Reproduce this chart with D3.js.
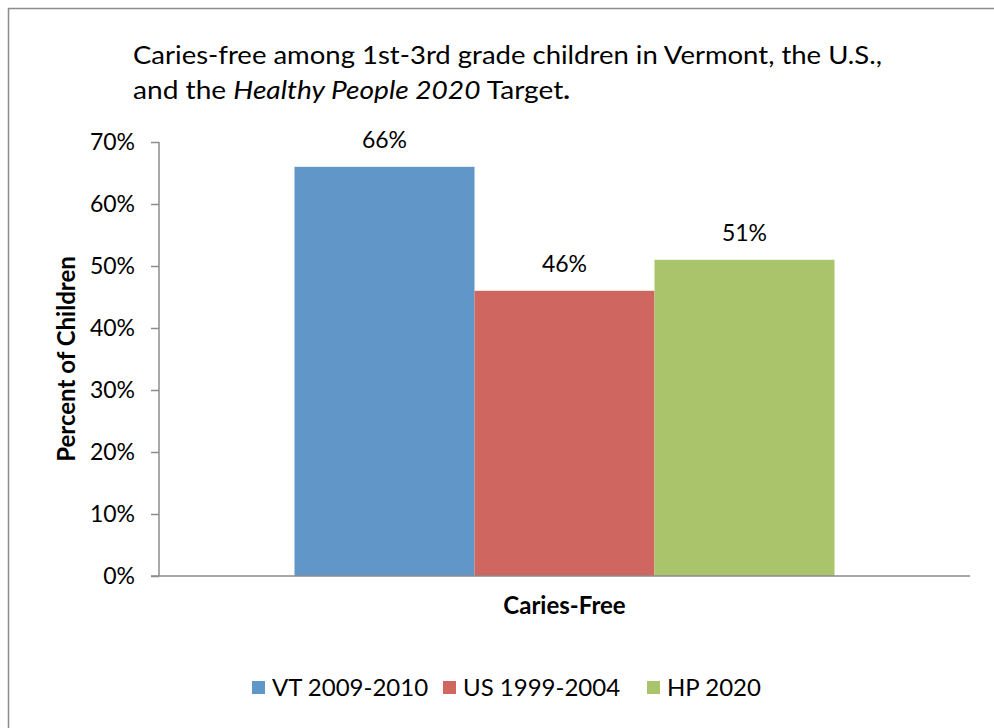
<!DOCTYPE html>
<html>
<head>
<meta charset="utf-8">
<script src="https://cdn.jsdelivr.net/npm/d3@7"></script>
<style>
  body { margin: 0; background: #fff; }
  text { font-family: Lato, "Open Sans", sans-serif; fill: #000; }
</style>
</head>
<body>
<svg id="chart" width="994" height="728"></svg>
<script>
// data
var category = "Caries-Free";
var seriesNames = ["VT 2009-2010", "US 1999-2004", "HP 2020"];
var seriesValues = [66, 46, 51];
var seriesColors = ["#6196c9", "#cf665f", "#a9c46b"];
var yTicks = [0, 10, 20, 30, 40, 50, 60, 70];

var svg = d3.select("#chart");

// outer frame
svg.append("rect")
  .attr("x", 8.5).attr("y", 8.5)
  .attr("width", 1000).attr("height", 800)
  .attr("fill", "none").attr("stroke", "#8c8c8c").attr("stroke-width", 1.5);

// title
var title = svg.append("g");
title.append("text")
  .attr("x", 133).attr("y", 64)
  .attr("font-size", 25)
  .attr("textLength", 749).attr("lengthAdjust", "spacingAndGlyphs")
  .text("Caries-free among 1st-3rd grade children in Vermont, the U.S.,");
var t2 = title.append("text")
  .attr("x", 133).attr("y", 99)
  .attr("font-size", 25)
  .attr("textLength", 437).attr("lengthAdjust", "spacingAndGlyphs");
t2.append("tspan").text("and the ");
t2.append("tspan").attr("font-style", "italic").text("Healthy People 2020");
t2.append("tspan").text(" Target");
t2.append("tspan").attr("font-weight", "bold").text(".");

var plot = { left: 159, right: 970, top: 142, bottom: 576 };

var x0 = d3.scaleBand()
  .domain([category])
  .range([plot.left, plot.right])
  .paddingInner(0).paddingOuter(0);

// bars take 540 of 811 (Excel gap width 150%)
var groupW = x0.bandwidth() * 540 / 811;
var x1 = d3.scaleBand()
  .domain(seriesNames)
  .range([x0(category) + (x0.bandwidth() - groupW) / 2, x0(category) + (x0.bandwidth() + groupW) / 2]);

var y = d3.scaleLinear().domain([0, 70]).range([plot.bottom, plot.top]);

// y axis
var yAxis = svg.append("g")
  .attr("transform", "translate(" + plot.left + ",0)")
  .call(d3.axisLeft(y).tickValues(yTicks).tickSize(8).tickPadding(16)
    .tickFormat(function(d) { return d + "%"; }));
yAxis.select(".domain").remove();
yAxis.selectAll("line").attr("stroke", "#8c8c8c").attr("stroke-width", 1.5);
yAxis.selectAll("text")
  .attr("font-size", 23)
  .attr("font-family", "Lato, 'Open Sans', sans-serif")
  .attr("fill", "#000");
yAxis.append("line")
  .attr("x1", 0).attr("x2", 0)
  .attr("y1", plot.top).attr("y2", plot.bottom)
  .attr("stroke", "#8c8c8c").attr("stroke-width", 1.5);

// bars
svg.append("g").selectAll("rect")
  .data(seriesValues)
  .enter().append("rect")
  .attr("x", function(d, i) { return x1(seriesNames[i]); })
  .attr("y", function(d) { return y(d); })
  .attr("width", x1.bandwidth())
  .attr("height", function(d) { return y(0) - y(d); })
  .attr("fill", function(d, i) { return seriesColors[i]; });

// value labels
svg.append("g").selectAll("text")
  .data(seriesValues)
  .enter().append("text")
  .attr("x", function(d, i) { return x1(seriesNames[i]) + x1.bandwidth() / 2; })
  .attr("y", function(d) { return y(d) - 19; })
  .attr("text-anchor", "middle")
  .attr("font-size", 23)
  .text(function(d) { return d + "%"; });

// x axis
svg.append("line")
  .attr("x1", plot.left - 8).attr("x2", plot.right)
  .attr("y1", plot.bottom).attr("y2", plot.bottom)
  .attr("stroke", "#8c8c8c").attr("stroke-width", 1.5);

svg.append("text")
  .attr("x", x0(category) + x0.bandwidth() / 2)
  .attr("y", 614)
  .attr("text-anchor", "middle")
  .attr("font-size", 24)
  .attr("font-weight", "bold")
  .text(category);

// y title
svg.append("text")
  .attr("transform", "translate(75," + ((plot.top + plot.bottom) / 2) + ") rotate(-90)")
  .attr("text-anchor", "middle")
  .attr("font-size", 24)
  .attr("font-weight", "bold")
  .text("Percent of Children");

// legend
var legendX = [252, 443, 647];
var legend = svg.append("g").selectAll("g")
  .data(seriesNames)
  .enter().append("g")
  .attr("transform", function(d, i) { return "translate(" + legendX[i] + ",681)"; });
legend.append("rect")
  .attr("width", 13).attr("height", 13)
  .attr("fill", function(d, i) { return seriesColors[i]; });
legend.append("text")
  .attr("x", 20).attr("y", 15)
  .attr("font-size", 24)
  .text(function(d) { return d; });
</script>
</body>
</html>
